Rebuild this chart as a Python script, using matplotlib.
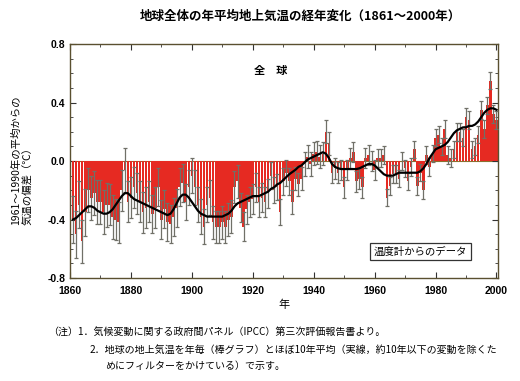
import matplotlib
matplotlib.use("Agg")
import matplotlib.pyplot as plt
from matplotlib.ticker import MultipleLocator

plt.rcParams['font.family'] = ['Noto Sans CJK JP', 'DejaVu Sans']

years = list(range(1861, 2001))

anomaly = [
    -0.40, -0.50, -0.30, -0.55, -0.35, -0.20, -0.25, -0.22, -0.28, -0.28,   # 1861-1870
    -0.35, -0.30, -0.30, -0.38, -0.40, -0.42, -0.20, -0.06, -0.28, -0.25,   # 1871-1880
    -0.18, -0.22, -0.28, -0.35, -0.32, -0.28, -0.36, -0.32, -0.18, -0.40,   # 1881-1890
    -0.33, -0.42, -0.43, -0.38, -0.32, -0.18, -0.15, -0.28, -0.18, -0.10,   # 1891-1900
    -0.18, -0.30, -0.38, -0.45, -0.30, -0.25, -0.42, -0.45, -0.45, -0.42,   # 1901-1910
    -0.45, -0.40, -0.38, -0.18, -0.14, -0.32, -0.45, -0.33, -0.28, -0.26,   # 1911-1920
    -0.18, -0.28, -0.25, -0.28, -0.22, -0.10, -0.20, -0.18, -0.35, -0.14,   # 1921-1930
    -0.08, -0.14, -0.28, -0.12, -0.16, -0.12, -0.02, 0.03, -0.02, 0.05,     # 1931-1940
    0.06, 0.03, 0.05, 0.20, 0.12, -0.08, -0.05, -0.08, -0.06, -0.18,        # 1941-1950
    -0.06, 0.02, 0.06, -0.14, -0.12, -0.18, 0.02, 0.04, 0.00, -0.06,        # 1951-1960
    0.02, 0.02, 0.04, -0.25, -0.17, -0.09, -0.09, -0.12, 0.00, -0.05,       # 1961-1970
    -0.14, -0.04, 0.08, -0.17, -0.08, -0.20, 0.04, -0.04, 0.05, 0.16,       # 1971-1980
    0.18, 0.10, 0.22, 0.04, 0.02, 0.08, 0.20, 0.20, 0.16, 0.30,             # 1981-1990
    0.28, 0.08, 0.10, 0.18, 0.35, 0.22, 0.38, 0.55, 0.32, 0.28,             # 1991-2000
]

# half-width of the uncertainty bars
uncertainty = [
    0.16, 0.16, 0.16, 0.15, 0.16, 0.15, 0.15, 0.15, 0.15, 0.15,
    0.15, 0.15, 0.14, 0.15, 0.14, 0.14, 0.14, 0.15, 0.14, 0.14,
    0.14, 0.14, 0.14, 0.14, 0.14, 0.14, 0.13, 0.14, 0.13, 0.13,
    0.13, 0.13, 0.13, 0.13, 0.13, 0.13, 0.13, 0.12, 0.12, 0.12,
    0.12, 0.12, 0.12, 0.12, 0.12, 0.12, 0.11, 0.11, 0.11, 0.11,
    0.11, 0.11, 0.11, 0.11, 0.11, 0.10, 0.10, 0.10, 0.10, 0.10,
    0.10, 0.10, 0.10, 0.10, 0.10, 0.09, 0.09, 0.09, 0.09, 0.09,
    0.09, 0.09, 0.08, 0.08, 0.08, 0.08, 0.08, 0.08, 0.08, 0.08,
    0.08, 0.08, 0.08, 0.08, 0.08, 0.07, 0.07, 0.07, 0.07, 0.07,
    0.07, 0.07, 0.07, 0.07, 0.07, 0.07, 0.07, 0.07, 0.07, 0.07,
    0.06, 0.06, 0.06, 0.06, 0.06, 0.06, 0.06, 0.06, 0.06, 0.06,
    0.06, 0.06, 0.06, 0.06, 0.06, 0.06, 0.06, 0.06, 0.06, 0.06,
    0.06, 0.06, 0.06, 0.06, 0.06, 0.06, 0.06, 0.06, 0.06, 0.06,
    0.06, 0.06, 0.06, 0.06, 0.06, 0.06, 0.06, 0.06, 0.06, 0.06,
]

smoothed = [
    -0.40, -0.39, -0.37, -0.35, -0.33, -0.31, -0.31, -0.32, -0.34, -0.35,
    -0.36, -0.36, -0.35, -0.33, -0.30, -0.27, -0.24, -0.22, -0.22, -0.24,
    -0.26, -0.27, -0.28, -0.29, -0.30, -0.31, -0.32, -0.33, -0.34, -0.35,
    -0.36, -0.37, -0.36, -0.33, -0.29, -0.25, -0.23, -0.23, -0.25, -0.28,
    -0.31, -0.34, -0.36, -0.37, -0.38, -0.38, -0.38, -0.38, -0.38, -0.38,
    -0.37, -0.36, -0.34, -0.31, -0.29, -0.28, -0.27, -0.26, -0.25, -0.24,
    -0.24, -0.24, -0.23, -0.22, -0.21, -0.19, -0.18, -0.16, -0.15, -0.13,
    -0.11, -0.09, -0.075, -0.06, -0.04, -0.03, -0.01, 0.01, 0.02, 0.03,
    0.04, 0.05, 0.06, 0.05, 0.02, -0.02, -0.04, -0.05, -0.055, -0.055,
    -0.055, -0.055, -0.055, -0.055, -0.05, -0.04, -0.03, -0.02, -0.02, -0.03,
    -0.05, -0.07, -0.09, -0.10, -0.10, -0.10, -0.09, -0.08, -0.08, -0.08,
    -0.08, -0.08, -0.08, -0.08, -0.07, -0.05, -0.02, 0.02, 0.05, 0.08,
    0.09, 0.10, 0.11, 0.13, 0.16, 0.19, 0.21, 0.22, 0.23, 0.23,
    0.24, 0.24, 0.25, 0.27, 0.30, 0.33, 0.35, 0.36, 0.36, 0.35,
]

xticks = [1860, 1880, 1900, 1920, 1940, 1960, 1980, 2000]
yticks = [-0.8, -0.4, 0.0, 0.4, 0.8]
ytick_labels = ['-0.8', '-0.4', '0.0', '0.4', '0.8']

fig = plt.figure(figsize=(5.2, 3.81), dpi=100)
ax = fig.add_axes([0.1346, 0.2703, 0.8231, 0.6142])

ax.bar(years, anomaly, width=0.85, color='#e62a22', edgecolor='none', zorder=2)
ax.errorbar(years, anomaly, yerr=uncertainty, fmt='none', ecolor='#707068',
            elinewidth=0.9, capsize=1.6, capthick=0.9, zorder=3)
ax.plot(years, smoothed, color='black', lw=1.6, zorder=4)
ax.axhline(0, color='#8a7030', lw=0.8, zorder=1)

ax.set_xlim(1860, 2000.5)
ax.set_ylim(-0.8, 0.8)
ax.set_xticks(xticks)
ax.set_xticklabels([str(t) for t in xticks])
ax.set_yticks(yticks)
ax.set_yticklabels(ytick_labels)
ax.xaxis.set_minor_locator(MultipleLocator(10))
ax.yaxis.set_minor_locator(MultipleLocator(0.1))
ax.tick_params(which='both', direction='in', top=True, right=True,
               colors='#333333', labelsize=7.5, labelcolor='black')
ax.tick_params(which='major', length=4)
ax.tick_params(which='minor', length=2.5)
ax.tick_params(axis='x', pad=6)
for lab in ax.get_xticklabels() + ax.get_yticklabels():
    lab.set_fontweight('bold')
    lab.set_family(['Liberation Sans', 'DejaVu Sans'])
for s in ax.spines.values():
    s.set_color('#5a5030')
    s.set_linewidth(1.0)

ax.set_xlabel('年', fontsize=8, labelpad=2)
fig.text(0.043, 0.58, '1961～1990年の平均からの\n気温の偏差（℃）', rotation=90,
         ha='center', va='center', fontsize=7.5, linespacing=1.3,
         multialignment='left')

fig.text(0.578, 0.958, '地球全体の年平均地上気温の経年変化（1861～2000年）',
         ha='center', va='center', fontsize=9, fontweight='bold')

ax.text(1926, 0.62, '全　球', ha='center', va='center', fontsize=8, fontweight='bold')
ax.text(1975, -0.62, '温度計からのデータ', ha='center', va='center', fontsize=7.5,
        bbox=dict(boxstyle='square,pad=0.35', fc='white', ec='#333333', lw=0.9))

fs_note = 7.2
fig.text(0.092, 0.126, '（注）1．気候変動に関する政府間パネル（IPCC）第三次評価報告書より。',
         ha='left', va='center', fontsize=fs_note)
fig.text(0.172, 0.081, '2．地球の地上気温を年毎（棒グラフ）とほぼ10年平均（実線，約10年以下の変動を除くた',
         ha='left', va='center', fontsize=fs_note)
fig.text(0.202, 0.040, 'めにフィルターをかけている）で示す。',
         ha='left', va='center', fontsize=fs_note)

fig.savefig('out.png', dpi=100)
